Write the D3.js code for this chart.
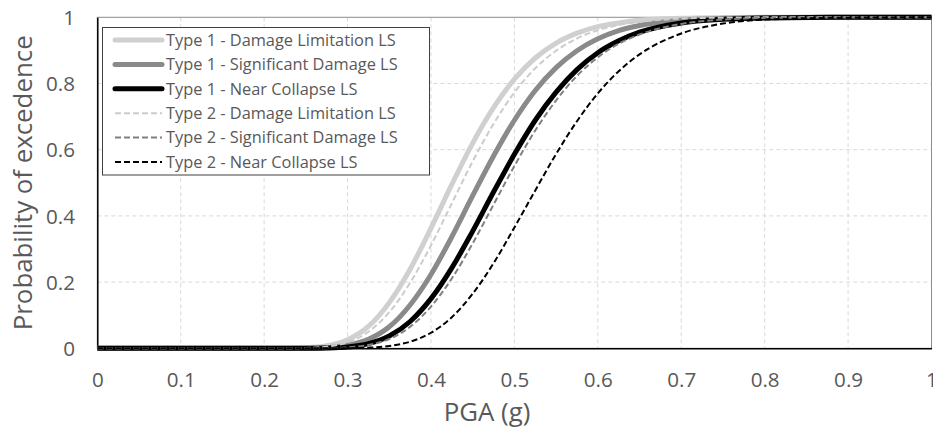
<!DOCTYPE html>
<html>
<head>
<meta charset="utf-8">
<script src="https://cdn.jsdelivr.net/npm/d3@7"></script>
<style>
  html, body { margin: 0; padding: 0; background: #fff; }
  svg { display: block; font-family: "Open Sans", "Noto Sans", sans-serif; }
</style>
</head>
<body>
<svg id="chart" width="933" height="428"></svg>
<script>
// ---------- data ----------
const pga = [0, 0.1, 0.2, 0.225, 0.25, 0.275, 0.3, 0.325, 0.35, 0.375, 0.4, 0.425, 0.45, 0.475,
             0.5, 0.525, 0.55, 0.575, 0.6, 0.625, 0.65, 0.7, 0.75, 0.8, 0.9, 1.0];

const type1DL = [0, 0, 0, 0.0002, 0.0015, 0.0075, 0.026, 0.066, 0.138, 0.239, 0.363, 0.495, 0.620, 0.727,
                 0.813, 0.877, 0.922, 0.952, 0.972, 0.983, 0.991, 0.997, 0.999, 1, 1, 1];
const type1SD = [0, 0, 0, 0, 0.0003, 0.002, 0.009, 0.027, 0.065, 0.131, 0.223, 0.337, 0.461, 0.581,
                 0.689, 0.779, 0.848, 0.899, 0.935, 0.960, 0.975, 0.991, 0.997, 0.999, 1, 1];
const type1NC = [0, 0, 0, 0, 0.0001, 0.001, 0.004, 0.014, 0.037, 0.081, 0.150, 0.243, 0.354, 0.472,
                 0.586, 0.689, 0.774, 0.842, 0.893, 0.929, 0.955, 0.983, 0.994, 0.998, 1, 1];
const type2DL = [0, 0, 0, 0.0001, 0.001, 0.005, 0.018, 0.050, 0.109, 0.198, 0.311, 0.438, 0.565, 0.678,
                 0.773, 0.846, 0.899, 0.936, 0.961, 0.977, 0.986, 0.996, 0.999, 1, 1, 1];
const type2SD = [0, 0, 0, 0, 0.0001, 0.0005, 0.003, 0.010, 0.028, 0.065, 0.126, 0.211, 0.317, 0.434,
                 0.551, 0.658, 0.749, 0.823, 0.879, 0.920, 0.948, 0.980, 0.993, 0.998, 1, 1];
const type2NC = [0, 0, 0, 0, 0, 0, 0.0004, 0.002, 0.007, 0.020, 0.047, 0.094, 0.165, 0.257,
                 0.365, 0.477, 0.587, 0.686, 0.770, 0.837, 0.888, 0.951, 0.981, 0.993, 0.999, 1];

const seriesNames = [
  "Type 1 - Damage Limitation LS",
  "Type 1 - Significant Damage LS",
  "Type 1 - Near Collapse LS",
  "Type 2 - Damage Limitation LS",
  "Type 2 - Significant Damage LS",
  "Type 2 - Near Collapse LS"
];
const seriesValues = [type1DL, type1SD, type1NC, type2DL, type2SD, type2NC];

const xTickValues = [0, 0.1, 0.2, 0.3, 0.4, 0.5, 0.6, 0.7, 0.8, 0.9, 1];
const xTickLabels = ["0", "0.1", "0.2", "0.3", "0.4", "0.5", "0.6", "0.7", "0.8", "0.9", "1"];
const yTickValues = [0, 0.2, 0.4, 0.6, 0.8, 1];
const yTickLabels = ["0", "0.2", "0.4", "0.6", "0.8", "1"];

const xTitle = "PGA (g)";
const yTitle = "Probability of excedence";

// ---------- styles ----------
const styles = [
  { color: "#d0d0d0", width: 5, dash: null },
  { color: "#8a8a8a", width: 5, dash: null },
  { color: "#000000", width: 5, dash: null },
  { color: "#cccccc", width: 2, dash: "6,3" },
  { color: "#808080", width: 2, dash: "6,3" },
  { color: "#000000", width: 2, dash: "6,3" }
];

// ---------- layout ----------
const svg = d3.select("#chart");
const plot = { left: 97.3, right: 931.5, top: 17.3, bottom: 348.3 };

const x = d3.scaleLinear().domain([0, 1]).range([plot.left, plot.right]);
const y = d3.scaleLinear().domain([0, 1]).range([plot.bottom, plot.top]);

const textColor = "#595959";

// fit font size helper (Calibri-like widths)
function fitSize(str, targetWidth, probeSize) {
  const t = svg.append("text").attr("font-size", probeSize).text(str);
  const w = t.node().getComputedTextLength();
  t.remove();
  return probeSize * targetWidth / w;
}
const tickSize = fitSize("0.1", 29, 20);
const legendSize = fitSize("Type 1 - Damage Limitation LS", 230, 18);
const titleSize = fitSize(yTitle, 295, 26);

// gridlines
const grid = svg.append("g");
grid.selectAll("line.vg")
  .data(xTickValues.filter(v => v > 0 && v < 1))
  .enter().append("line")
  .attr("x1", d => x(d)).attr("x2", d => x(d))
  .attr("y1", plot.top).attr("y2", plot.bottom)
  .attr("stroke", "#d9d9d9").attr("stroke-width", 1).attr("stroke-dasharray", "4,3");
grid.selectAll("line.hg")
  .data(yTickValues.filter(v => v > 0 && v < 1))
  .enter().append("line")
  .attr("x1", plot.left).attr("x2", plot.right)
  .attr("y1", d => y(d)).attr("y2", d => y(d))
  .attr("stroke", "#d9d9d9").attr("stroke-width", 1).attr("stroke-dasharray", "4,3");

// plot border (top/right gray)
svg.append("rect")
  .attr("x", plot.left).attr("y", plot.top)
  .attr("width", plot.right - plot.left).attr("height", plot.bottom - plot.top)
  .attr("fill", "none").attr("stroke", "#8c8c8c").attr("stroke-width", 1);

// axes
const xAxis = d3.axisBottom(x).tickValues(xTickValues)
  .tickFormat((d, i) => xTickLabels[i]).tickSize(0).tickPadding(0);
const gx = svg.append("g").attr("transform", `translate(0,${plot.bottom})`).call(xAxis);
gx.select(".domain").attr("stroke", "#000").attr("stroke-width", 1.5);
gx.selectAll("text").attr("fill", textColor).attr("font-size", tickSize)
  .attr("font-family", "'Open Sans', sans-serif")
  .attr("y", 380 - plot.bottom).attr("dy", "0.35em");

const yAxis = d3.axisLeft(y).tickValues(yTickValues)
  .tickFormat((d, i) => yTickLabels[i]).tickSize(0).tickPadding(0);
const gy = svg.append("g").attr("transform", `translate(${plot.left},0)`).call(yAxis);
gy.select(".domain").attr("stroke", "#000").attr("stroke-width", 1.5);
gy.selectAll("text").attr("fill", textColor).attr("font-size", tickSize)
  .attr("font-family", "'Open Sans', sans-serif")
  .attr("x", 75 - plot.left).attr("dy", "0.35em");

// lines
const line = d3.line().x(d => x(d[0])).y(d => y(d[1])).curve(d3.curveMonotoneX);
const lines = svg.append("g");
seriesValues.forEach((vals, i) => {
  const pts = pga.map((p, k) => [p, vals[k]]);
  const s = styles[i];
  lines.append("path")
    .attr("d", line(pts))
    .attr("fill", "none")
    .attr("stroke", s.color)
    .attr("stroke-width", s.width)
    .attr("stroke-dasharray", s.dash)
    .attr("stroke-linejoin", "round");
});

// legend
const lg = svg.append("g");
lg.append("rect")
  .attr("x", 102.5).attr("y", 27.5).attr("width", 327).attr("height", 147.5)
  .attr("fill", "#fff").attr("stroke", "#404040").attr("stroke-width", 1);
seriesNames.forEach((name, i) => {
  const cy = 40 + i * 24.4;
  const s = styles[i];
  lg.append("line")
    .attr("x1", 115).attr("x2", 162).attr("y1", cy).attr("y2", cy)
    .attr("stroke", s.color).attr("stroke-width", s.width)
    .attr("stroke-dasharray", s.dash).attr("stroke-linecap", s.dash ? "butt" : "round");
  lg.append("text")
    .attr("x", 166).attr("y", cy).attr("dy", "0.35em")
    .attr("font-size", legendSize).attr("fill", textColor)
    .text(name);
});

// axis titles
svg.append("text")
  .attr("x", 487).attr("y", 412).attr("dy", "0.35em")
  .attr("text-anchor", "middle").attr("font-size", titleSize).attr("fill", textColor)
  .text(xTitle);
svg.append("text")
  .attr("transform", `translate(23,${(plot.top + plot.bottom) / 2}) rotate(-90)`)
  .attr("dy", "0.35em")
  .attr("text-anchor", "middle").attr("font-size", titleSize).attr("fill", textColor)
  .text(yTitle);
</script>
</body>
</html>
